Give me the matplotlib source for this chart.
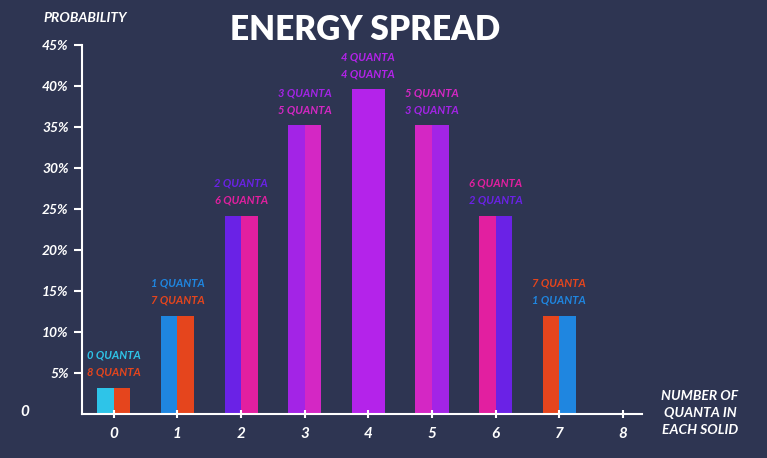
import matplotlib
matplotlib.use("Agg")
import matplotlib.pyplot as plt

quanta = [0, 1, 2, 3, 4, 5, 6, 7]
left_vals = [3.2, 12.0, 24.2, 35.2, 39.6, 35.2, 24.2, 12.0]
right_vals = [3.2, 12.0, 24.2, 35.2, 39.6, 35.2, 24.2, 12.0]
left_colors = ["#2ec4e8", "#1f86e0", "#6a22e6", "#a324e6", "#b423ea", "#d427c4", "#e21fa0", "#e5451d"]
right_colors = ["#e5451d", "#e5451d", "#e21fa0", "#d427c4", "#b423ea", "#a324e6", "#6a22e6", "#1f86e0"]
top_labels = ["0 QUANTA", "1 QUANTA", "2 QUANTA", "3 QUANTA", "4 QUANTA", "5 QUANTA", "6 QUANTA", "7 QUANTA"]
bot_labels = ["8 QUANTA", "7 QUANTA", "6 QUANTA", "5 QUANTA", "4 QUANTA", "3 QUANTA", "2 QUANTA", "1 QUANTA"]
yticks = [5, 10, 15, 20, 25, 30, 35, 40, 45]
xticks = [0, 1, 2, 3, 4, 5, 6, 7, 8]

bg = "#2e3552"
fig = plt.figure(figsize=(7.67, 4.58), dpi=100, facecolor=bg)
ax = fig.add_axes([82/767, 44/458, 560/767, 369/458], facecolor=bg)
font = dict(family="Lato", weight="bold", style="italic")

w = 0.26
for i, q in enumerate(quanta):
    if q == 4:
        ax.bar(q, left_vals[i], width=2*w, color=left_colors[i])
    else:
        ax.bar(q - w/2, left_vals[i], width=w, color=left_colors[i])
        ax.bar(q + w/2, right_vals[i], width=w, color=right_colors[i])
    top = max(left_vals[i], right_vals[i])
    ax.text(q, top + 3.3, top_labels[i], color=left_colors[i], ha="center", va="bottom", fontsize=8, **font)
    ax.text(q, top + 1.2, bot_labels[i], color=right_colors[i], ha="center", va="bottom", fontsize=8, **font)

ax.set_xlim(-0.5, 8.3)
ax.set_ylim(0, 45)
ax.set_xticks(xticks)
ax.set_xticklabels([str(x) for x in xticks], color="white", fontsize=11, **font)
ax.set_yticks(yticks)
ax.set_yticklabels([f"{y}%" for y in yticks], color="white", fontsize=10, **font)
ax.tick_params(colors="white", length=6, width=1.5)
ax.tick_params(axis="x", direction="inout", pad=6)
for s in ["top", "right"]:
    ax.spines[s].set_visible(False)
for s in ["left", "bottom"]:
    ax.spines[s].set_color("white")
    ax.spines[s].set_linewidth(1.5)

fig.text(25/767, 1 - 412/458, "0", color="white", fontsize=11, ha="center", va="center", **font)
fig.text(85/767, 1 - 18/458, "PROBABILITY", color="white", fontsize=10, ha="center", va="center", **font)
fig.text(365/767, 1 - 30/458, "ENERGY SPREAD", color="white", fontsize=24, ha="center", va="center",
         family="Lato", weight="heavy")
fig.text(700/767, 1 - 413/458, "NUMBER OF\nQUANTA IN\nEACH SOLID", color="white", fontsize=10,
         ha="center", va="center", linespacing=1.5, **font)

fig.savefig("out.png", dpi=100, facecolor=bg)
